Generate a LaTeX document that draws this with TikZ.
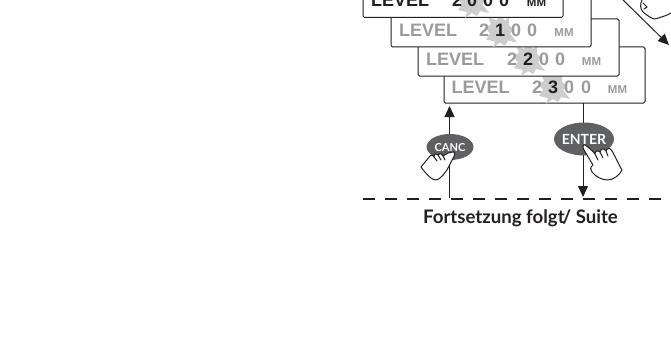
\documentclass[tikz,border=0pt]{standalone}
\usepackage{fontspec}
\setmainfont{Liberation Sans}
\newfontfamily\labelfont{Lato}
\usetikzlibrary{arrows.meta,shapes.geometric}
\definecolor{txtgray}{HTML}{9A9B9D}
\definecolor{burstgray}{HTML}{CDCDCE}
\definecolor{btngray}{HTML}{5F6062}
\definecolor{inkblack}{HTML}{231F20}
\tikzset{
  x=1pt,y=-1pt,
  panel/.style={draw=inkblack,fill=white,line width=1pt,rounded corners=1.5pt},
  lvltext/.style={font=\fontsize{18}{18}\selectfont\bfseries,text=txtgray,anchor=base,inner sep=0pt},
  unit/.style={font=\fontsize{11.5}{12}\selectfont\bfseries,text=txtgray,anchor=base,inner sep=0pt},
  on/.style={text=inkblack},
  burst/.pic={\fill[burstgray] (-7,17) -- (-5,11) -- (-14,9) -- (-10,3) -- (-15,-3) -- (-9,-6) -- (-12,-14) -- (-4,-10) -- (0,-15) -- (5,-10) -- (9,-14) -- (9,-5) -- (14,-1) -- (10,3) -- (17,12) -- (8,10) -- (5,15) -- (0,12) -- cycle;},
  btn/.style={fill=btngray,text=white,ellipse,inner sep=0pt},
  handline/.style={draw=inkblack,fill=white,line width=1pt,line join=round,line cap=round},
  arr/.style={draw=inkblack,line width=1pt,-{Triangle[length=11pt,width=10pt]}},
}
\begin{document}
\begin{tikzpicture}
\useasboundingbox (0,0) rectangle (671,337);
\clip (0,0) rectangle (671,337);
% panels, back to front
\draw[panel] (444,47) rectangle (645,103);
\pic at (553,87) {burst};
\node[lvltext] (l4) at (480.5,93.3) {LEVEL};
\node[lvltext] (d41) at (537,93.3) {2};
\node[lvltext,on] (d42) at (553,93.3) {3};
\node[lvltext] (d43) at (569,93.3) {0};
\node[lvltext] (d44) at (586,93.3) {0};
\node[unit] (u4) at (617.5,93.3) {MM};
\draw[panel] (418,19) rectangle (619,76);
\pic at (528,59) {burst};
\node[lvltext] (l3) at (455,65.3) {LEVEL};
\node[lvltext] (d31) at (512,65.3) {2};
\node[lvltext,on] (d32) at (528,65.3) {2};
\node[lvltext] (d33) at (544,65.3) {0};
\node[lvltext] (d34) at (560,65.3) {0};
\node[unit] (u3) at (591.5,65.3) {MM};
\draw[panel] (391,-10) rectangle (591,47);
\pic at (500,30.5) {burst};
\node[lvltext] (l2) at (428,36.7) {LEVEL};
\node[lvltext] (d21) at (484,36.7) {2};
\node[lvltext,on] (d22) at (500,36.7) {1};
\node[lvltext] (d23) at (516,36.7) {0};
\node[lvltext] (d24) at (532,36.7) {0};
\node[unit] (u2) at (564,36.7) {MM};
\draw[panel] (363,-40) rectangle (563,17.5);
\pic at (472,1) {burst};
\node[lvltext,on] (l1) at (400,7) {LEVEL};
\node[lvltext,on] (d11) at (457,7) {2};
\node[lvltext,on] (d12) at (472,7) {0};
\node[lvltext,on] (d13) at (488,7) {0};
\node[lvltext,on] (d14) at (504,7) {0};
\node[unit,on] (u1) at (536.5,7) {MM};
% top right hand and arrow
\coordinate (tipstart) at (622,-1);
\coordinate (tipend) at (669,45);
\draw[arr] (tipstart) -- (tipend);
\draw[handline,fill=none] (642,0) .. controls (640,4) and (640,9) .. (643,12) .. controls (648,16) and (652,19) .. (655,19) .. controls (662,17) and (668,15) .. (671,13);
\draw[handline,fill=none] (643,3) -- (647,7) -- (644,9);
% connectors
\coordinate (cancbot) at (449.5,198);
\coordinate (canctop) at (449.5,106);
\coordinate (entertop) at (583,103);
\coordinate (enterbot) at (583,197);
\draw[arr] (cancbot) -- (canctop);
\draw[arr] (entertop) -- (enterbot);
% dashed line
\coordinate (dashl) at (363,199);
\coordinate (dashr) at (671,199);
\draw[draw=inkblack,line width=1.3pt,dash pattern=on 12pt off 10pt] (dashl) -- (dashr);
\node[font=\labelfont\fontsize{18.6}{19}\selectfont\bfseries,text=inkblack,anchor=base,inner sep=0pt] (cap) at (520.5,223) {Fortsetzung folgt\kern-2pt/ Suite};
% buttons
\node[btn,minimum width=47pt,minimum height=26pt] (canc) at (450,147) {};
\node[font=\labelfont\fontsize{11}{11}\selectfont\bfseries,text=white,inner sep=0pt] (canclbl) at (450,147.5) {CANC};
\node[btn,minimum width=60pt,minimum height=33pt] (enter) at (584,139) {};
\node[font=\labelfont\fontsize{14}{14}\selectfont\bfseries,text=white,inner sep=0pt] (enterlbl) at (584,139) {ENTER};
% CANC hand
\draw[handline] (454,152) .. controls (456,155) and (453,158) .. (451,162)
  .. controls (449,167) and (445,174) .. (440,178) .. controls (437,181) and (434,180) .. (431,178)
  .. controls (427,175) and (423,170) .. (421,167) .. controls (424,163) and (427,160) .. (430,156)
  .. controls (431,154) and (433,155) .. (434,157) .. controls (434,154) and (436,153) .. (438,155)
  .. controls (439,153) and (441,153) .. (443,156) .. controls (446,154) and (449,152) .. (454,152) -- cycle;
\draw[handline,fill=none] (434,157) -- (437,161) (438,155) -- (441,160) (443,156) -- (445,160);
\draw[draw=inkblack,line width=1pt] (449.5,168) -- (449.5,176);
% ENTER hand
\draw[handline] (585,145) .. controls (583,144) and (582,147) .. (584,150)
  .. controls (587,155) and (590,160) .. (593,165) .. controls (590,167) and (590,170) .. (592,172)
  .. controls (596,177) and (602,180) .. (608,180) .. controls (613,180) and (620,175) .. (622,170)
  .. controls (619,165) and (616,158) .. (612,151) .. controls (610,147) and (607,148) .. (606,151)
  .. controls (604,148) and (601,148) .. (600,152) .. controls (598,150) and (595,151) .. (595,154)
  .. controls (593,151) and (588,147) .. (585,145) -- cycle;
\draw[handline,fill=none] (595,154) -- (598,160) (600,152) -- (603,158) (606,151) -- (608,156);
\end{tikzpicture}
\end{document}
